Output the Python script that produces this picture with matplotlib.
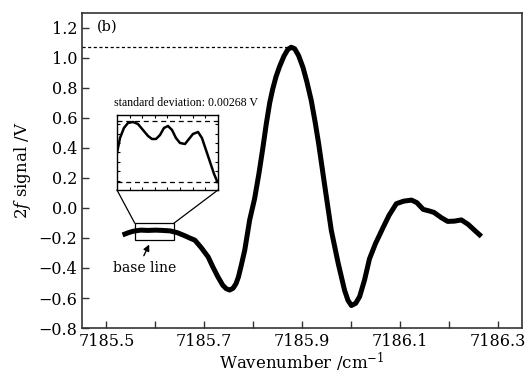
import matplotlib
matplotlib.use("Agg")
import matplotlib.pyplot as plt
from matplotlib.patches import Rectangle, ConnectionPatch
import numpy as np

plt.rcParams['font.family'] = ['DejaVu Serif']
plt.rcParams['mathtext.fontset'] = 'dejavuserif'

# main spectrum (wavenumber, 2f signal)
wavenumber = [7185.533, 7185.545, 7185.555, 7185.570, 7185.585, 7185.600, 7185.615,
              7185.630, 7185.645, 7185.660, 7185.670, 7185.681, 7185.694, 7185.708,
              7185.718, 7185.728, 7185.738, 7185.745, 7185.752, 7185.759, 7185.765,
              7185.770, 7185.776, 7185.783, 7185.788, 7185.793, 7185.803, 7185.812,
              7185.820, 7185.827, 7185.834, 7185.840, 7185.847, 7185.854, 7185.863,
              7185.871, 7185.878, 7185.885, 7185.893, 7185.902, 7185.910, 7185.919,
              7185.927, 7185.934, 7185.946, 7185.960, 7185.974, 7185.987, 7185.994,
              7186.001, 7186.010, 7186.018, 7186.028, 7186.038, 7186.050, 7186.066,
              7186.078, 7186.093, 7186.108, 7186.124, 7186.135, 7186.148, 7186.160,
              7186.170, 7186.185, 7186.198, 7186.212, 7186.226, 7186.240, 7186.255,
              7186.267]
signal = [-0.180, -0.165, -0.155, -0.148, -0.150, -0.148, -0.150,
          -0.153, -0.165, -0.185, -0.200, -0.215, -0.265, -0.326,
          -0.395, -0.459, -0.515, -0.538, -0.547, -0.535, -0.505,
          -0.460, -0.380, -0.280, -0.180, -0.080, 0.060, 0.230,
          0.400, 0.560, 0.700, 0.790, 0.875, 0.940, 1.010,
          1.055, 1.070, 1.060, 1.015, 0.936, 0.840, 0.715,
          0.570, 0.430, 0.160, -0.150, -0.368, -0.547, -0.615,
          -0.650, -0.635, -0.590, -0.480, -0.340, -0.240, -0.130,
          -0.050, 0.028, 0.045, 0.052, 0.035, -0.010, -0.020,
          -0.030, -0.065, -0.090, -0.088, -0.080, -0.110, -0.155,
          -0.190]

# inset: zoomed baseline
inset_x = [7185.5580, 7185.5604, 7185.5635, 7185.5667, 7185.5707, 7185.5746, 7185.5786,
           7185.5826, 7185.5857, 7185.5889, 7185.5921, 7185.5952, 7185.5984, 7185.6016,
           7185.6047, 7185.6079, 7185.6119, 7185.6150, 7185.6182, 7185.6222, 7185.6253,
           7185.6285, 7185.6317, 7185.6349, 7185.6376]
inset_y = [-0.1526, -0.1496, -0.1476, -0.1466, -0.1464, -0.1468, -0.1480,
           -0.1492, -0.1498, -0.1498, -0.1490, -0.1476, -0.1472, -0.1480,
           -0.1496, -0.1506, -0.1508, -0.1498, -0.1488, -0.1484, -0.1496,
           -0.1520, -0.1544, -0.1568, -0.1584]
inset_limits = [-0.14614, -0.15834]

peak_value = 1.07
peak_x = 7185.878
box_x = (7185.558, 7185.638)
box_y = (-0.215, -0.102)

xticks = [7185.5, 7185.7, 7185.9, 7186.1, 7186.3]
yticks = [-0.8, -0.6, -0.4, -0.2, 0.0, 0.2, 0.4, 0.6, 0.8, 1.0, 1.2]

fig = plt.figure(figsize=(5.31, 3.81), dpi=100)
ax = fig.add_axes([0.1544, 0.139, 0.8286, 0.8277])
ax.plot(wavenumber, signal, color='black', lw=3.6, solid_joinstyle='round',
        solid_capstyle='butt')
ax.set_xlim(7185.45, 7186.35)
ax.set_ylim(-0.8, 1.3)
ax.set_xticks(xticks)
ax.set_xticklabels([f"{v:.1f}" for v in xticks])
ax.set_xticks([7185.6, 7185.8, 7186.0, 7186.2], minor=True)
ax.set_yticks(yticks)
ax.set_yticklabels([f"{v:.1f}".replace('-', '\u2212') for v in yticks])
ax.tick_params(which='both', direction='in', length=5, width=1, labelsize=11.5, color='#333333')
for s in ax.spines.values():
    s.set_color('#333333')
    s.set_linewidth(1.2)
ax.set_xlabel(r"Wavenumber /cm$^{-1}$", fontsize=12, labelpad=1)
ax.set_ylabel(r"2$f$ signal /V", fontsize=12, labelpad=4)

ax.plot([7185.45, peak_x], [peak_value, peak_value], color='black', lw=0.9, ls=(0, (2.5, 2)))
ax.text(0.034, 0.955, "(b)", transform=ax.transAxes, fontsize=10.5, va='center', ha='left')

ax.add_patch(Rectangle((box_x[0], box_y[0]), box_x[1] - box_x[0], box_y[1] - box_y[0],
                       fill=False, edgecolor='black', lw=0.9, zorder=3))
ax.annotate("", xy=(7185.590, -0.227), xytext=(7185.574, -0.335),
            arrowprops=dict(arrowstyle='-|>', color='black', lw=1.0, mutation_scale=9))
ax.text(7185.578, -0.40, "base line", fontsize=10, ha='center', va='center')
ax.text(0.073, 0.714, "standard deviation: 0.00268 V", transform=ax.transAxes,
        fontsize=8.6, ha='left', va='center', family=['Liberation Serif'])

ins = fig.add_axes([0.2203, 0.5013, 0.1902, 0.1969])
ins.plot(inset_x, inset_y, color='black', lw=1.8)
for v in inset_limits:
    ins.axhline(v, color='black', lw=0.9, ls=(0, (4, 3)))
ins.set_xlim(box_x)
ins.set_ylim(-0.160, -0.145)
ins.set_xticks(np.linspace(box_x[0], box_x[1], 9)[1:-1])
ins.set_yticks(np.linspace(-0.160, -0.145, 9)[1:-1])
ins.tick_params(which='both', direction='in', length=2, width=0.8,
                top=True, right=True, labelbottom=False, labelleft=False)
for s in ins.spines.values():
    s.set_linewidth(1.0)

for ix, dx in [(0, box_x[0]), (1, box_x[1])]:
    con = ConnectionPatch(xyA=(ix, 0), coordsA=ins.transAxes,
                          xyB=(dx, box_y[1]), coordsB=ax.transData,
                          color='black', lw=0.9)
    fig.add_artist(con)

fig.savefig("out.png", dpi=100)
